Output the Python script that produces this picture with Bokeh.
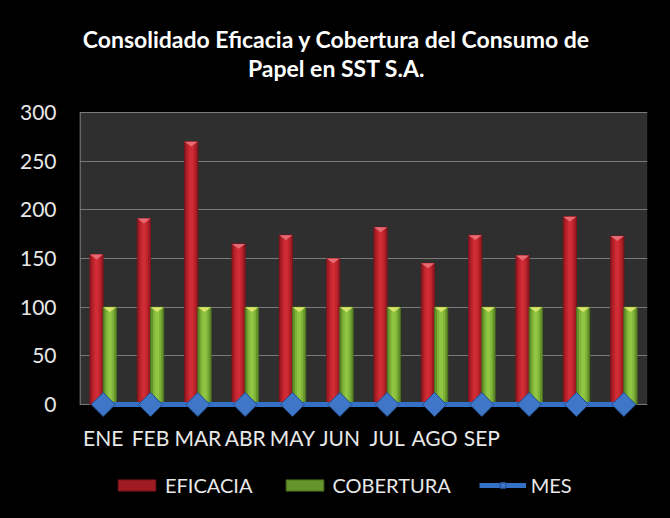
import numpy as np
from bokeh.plotting import figure
from bokeh.models import (Range1d, FixedTicker, Legend, LegendItem, ColumnDataSource)
from bokeh.core.properties import value
from bokeh.embed import file_html
from bokeh.resources import INLINE

# ---------------- data ----------------
months = ["ENE", "FEB", "MAR", "ABR", "MAY", "JUN", "JUL", "AGO", "SEP", "OCT", "NOV", "DIC"]
tick_labels = ["ENE", "FEB", "MAR", "ABR", "MAY", "JUN", "JUL", "AGO", "SEP", "", "", ""]
eficacia = [154, 191, 270, 165, 174, 150, 182, 145, 174, 153, 193, 173]
cobertura = [100, 100, 100, 100, 100, 100, 100, 100, 100, 100, 100, 100]
mes = [0, 0, 0, 0, 0, 0, 0, 0, 0, 0, 0, 0]
y_ticks = [0, 50, 100, 150, 200, 250, 300]
title_lines = ["Consolidado Eficacia y Cobertura del Consumo de", "Papel en SST S.A."]

FONT = "Lato"
TXT = "#e8e8e8"

# ---------------- layout (pixels) ----------------
W, H = 670, 518
left_px, right_px = 79, 23
y0_px, y300_px = 404, 112           # page rows of value 0 and value 300
ppu = (y0_px - y300_px) / (y_ticks[-1] - y_ticks[0])   # px per unit
ymin = -(H - y0_px) / ppu
ymax = y_ticks[-1] + y300_px / ppu
def y_at(px):                        # page row -> data value
    return (y0_px - px) / ppu

idx = np.arange(len(months))
cat_px = (W - left_px - right_px) / len(months)
bar_w = 0.28
off_r, off_g = -0.14, 0.14
cap_d = 5.0

p = figure(width=W, height=H, output_backend="svg", toolbar_location=None,
           x_range=Range1d(-0.5, len(months) - 0.5), y_range=Range1d(ymin, ymax),
           min_border_left=left_px, min_border_right=right_px, min_border_top=0, min_border_bottom=0,
           background_fill_color="black", border_fill_color="black", outline_line_color=None)

# plot-area background and its left edge
area = p.quad(left=[p.x_range.start], right=[p.x_range.end], bottom=[y_ticks[0]], top=[y_ticks[-1]],
              fill_color="#2f2f2f", line_color=None)
area.level = "image"
p.quad(left=[p.x_range.start], right=[p.x_range.start + 1.2 / cat_px],
       bottom=[y_ticks[0]], top=[y_ticks[-1]], fill_color="#808080", line_color=None)

src = ColumnDataSource(dict(x=idx, xr=idx + off_r, xg=idx + off_g,
                            ef=eficacia, co=cobertura, mes=mes))

# EFICACIA bars (layered for shading)
r_ef = p.vbar(x="xr", top="ef", bottom=0, width=bar_w, source=src,
              fill_color="#a01c24", line_color="#781319", line_width=1)
p.vbar(x="xr", top="ef", bottom=0, width=bar_w * 0.62, source=src, fill_color="#c0242d", line_color=None)
p.vbar(x="xr", top="ef", bottom=0, width=bar_w * 0.3, source=src, fill_color="#d02c35", line_color=None)
p.patches(xs=[[x + off_r - bar_w / 2, x + off_r + bar_w / 2, x + off_r] for x in idx],
          ys=[[v, v, v - cap_d] for v in eficacia], fill_color="#e66a72", line_color=None)

# COBERTURA bars
r_co = p.vbar(x="xg", top="co", bottom=0, width=bar_w, source=src,
              fill_color="#64942b", line_color="#4a6e1e", line_width=1)
p.vbar(x="xg", top="co", bottom=0, width=bar_w * 0.62, source=src, fill_color="#80b439", line_color=None)
p.vbar(x="xg", top="co", bottom=0, width=bar_w * 0.3, source=src, fill_color="#90c544", line_color=None)
p.patches(xs=[[x + off_g - bar_w / 2, x + off_g + bar_w / 2, x + off_g] for x in idx],
          ys=[[v, v, v - cap_d] for v in cobertura], fill_color="#d8e46a", line_color=None)

# MES line with diamonds
r_line = p.line(x="x", y="mes", source=src, line_color="#3370c6", line_width=5)
r_dia = p.scatter(x="x", y="mes", source=src, marker="square", angle=np.pi / 4, size=17,
                  fill_color="#3f76c8", line_color="#1f4c8c", line_width=1)

# y axis
p.yaxis.ticker = FixedTicker(ticks=y_ticks)
p.yaxis.axis_line_color = None
p.yaxis.major_tick_line_color = None
p.yaxis.major_tick_out = 0
p.yaxis.major_tick_in = 0
p.yaxis.minor_tick_line_color = None
p.yaxis.major_label_standoff = 23
p.yaxis.major_label_text_font = FONT
p.yaxis.major_label_text_font_size = "21px"
p.yaxis.major_label_text_color = TXT

# category labels under the plot area (drawn with the same x scale)
p.xaxis.visible = False
p.text(x=idx, y=[y_at(437)] * len(idx), text=tick_labels, text_align="center", text_baseline="middle",
       text_font=value(FONT), text_font_size="21px", text_color=TXT)

p.xgrid.visible = False
p.ygrid.ticker = FixedTicker(ticks=y_ticks)
p.ygrid.grid_line_color = "#7a7a7a"
p.ygrid.grid_line_width = 1

# title (two lines)
x_title = (336 - left_px) / cat_px - 0.5
p.text(x=[x_title, x_title], y=[y_at(38), y_at(67)], text=title_lines,
       text_align="center", text_baseline="middle", text_font=value(FONT),
       text_font_size="23px", text_font_style="bold", text_color="white")

# legend
legend = Legend(items=[LegendItem(label="EFICACIA", renderers=[r_ef]),
                       LegendItem(label="COBERTURA", renderers=[r_co]),
                       LegendItem(label="MES", renderers=[r_line, r_dia])],
                orientation="horizontal", location=(113 - left_px, H - 497),
                glyph_width=47, glyph_height=14, label_standoff=5, spacing=28,
                padding=0, margin=0, background_fill_alpha=0, border_line_color=None,
                label_text_font=FONT, label_text_font_size="20px", label_text_color=TXT)
p.add_layout(legend, "center")

html = file_html(p, INLINE)
html = html.replace("</head>", "<style>html, body { background-color: #000000 !important; }</style></head>", 1)
open("out.html", "w").write(html)
